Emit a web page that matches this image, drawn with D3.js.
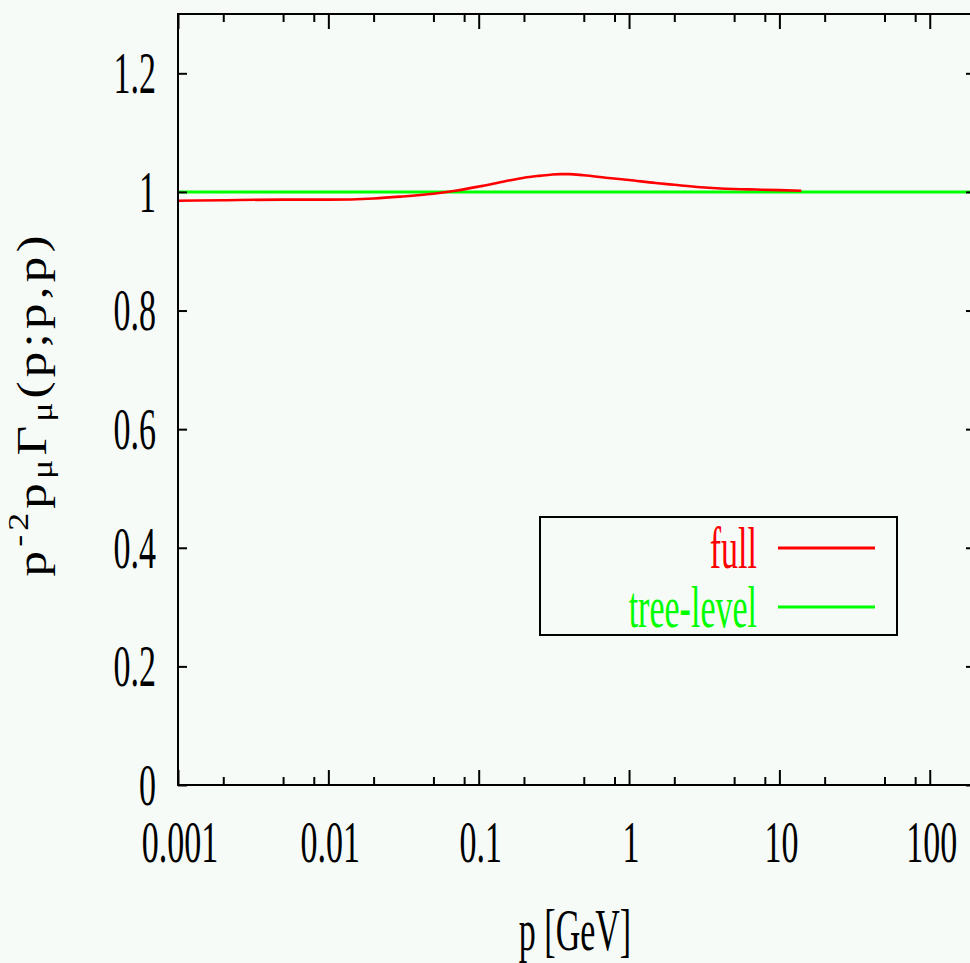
<!DOCTYPE html>
<html>
<head>
<meta charset="utf-8">
<script src="https://cdn.jsdelivr.net/npm/d3@7/dist/d3.min.js"></script>
<style>
  html, body { margin: 0; padding: 0; background: #f6fbf8; overflow: hidden; }
  text { font-family: "Liberation Serif", "DejaVu Serif", serif; fill: #000; }
  .tick line { stroke: #000; stroke-width: 2; }
</style>
</head>
<body>
<svg id="chart-svg" width="970" height="963"></svg>
<script>

// Data
const momentum = [0.001, 0.002, 0.005, 0.01, 0.02, 0.03, 0.05, 0.07, 0.1, 0.15, 0.2, 0.25, 0.3, 0.35, 0.4, 0.5, 0.7, 1, 1.5, 2, 3, 5, 7, 10, 14];
const vertexFull = [0.985, 0.986, 0.987, 0.987, 0.989, 0.992, 0.997, 1.002, 1.009, 1.018, 1.024, 1.027, 1.029, 1.030, 1.030, 1.028, 1.024, 1.020, 1.015, 1.012, 1.008, 1.005, 1.004, 1.003, 1.002];
const treeMomentum = [0.001, 200];
const vertexTree = [1, 1];

const xMajorTicks = [0.001, 0.01, 0.1, 1, 10, 100];
const xTickLabels = ["0.001", "0.01", "0.1", "1", "10", "100"];
const xMinorTicks = [0.002, 0.005, 0.008, 0.02, 0.05, 0.08, 0.2, 0.5, 0.8, 2, 5, 8, 20, 50, 80];
const yTicks = [0, 0.2, 0.4, 0.6, 0.8, 1, 1.2];
const yTickLabels = ["0", "0.2", "0.4", "0.6", "0.8", "1", "1.2"];

const legendNames = ["full", "tree-level"];
const legendColours = ["#ff0000", "#00ff00"];

// the picture is stretched vertically, so text is too
const FONT = 34;
const STRETCH = 1.72;

const plot = {left: 178, right: 975, top: 14, bottom: 785};

const svg = d3.select("#chart-svg");

const x = d3.scaleLog().domain([0.001, 200]).range([plot.left, plot.right]);
const y = d3.scaleLinear().domain([0, 1.3]).range([plot.bottom, plot.top]);

/**
 * Add stretched text
 */
function addText(g, tx, ty, str, anchor, colour) {
  return g.append("text")
    .attr("transform", "translate(" + tx + "," + ty + ") scale(1," + STRETCH + ")")
    .attr("text-anchor", anchor)
    .style("font-size", FONT + "px")
    .style("fill", colour || "#000")
    .text(str);
}

/**
 * Render ticks on all four sides (gnuplot mirrors them inward)
 */
function renderAxes() {
  const strip = g => { g.select(".domain").remove(); };

  svg.append("g").attr("transform", "translate(0," + plot.bottom + ")")
    .call(d3.axisBottom(x).tickValues(xMajorTicks).tickSize(-15).tickSizeOuter(0).tickFormat(""))
    .call(strip);
  svg.append("g").attr("transform", "translate(0," + plot.bottom + ")")
    .call(d3.axisBottom(x).tickValues(xMinorTicks).tickSize(-8).tickSizeOuter(0).tickFormat(""))
    .call(strip);
  svg.append("g").attr("transform", "translate(0," + plot.top + ")")
    .call(d3.axisTop(x).tickValues(xMajorTicks).tickSize(-15).tickSizeOuter(0).tickFormat(""))
    .call(strip);
  svg.append("g").attr("transform", "translate(0," + plot.top + ")")
    .call(d3.axisTop(x).tickValues(xMinorTicks).tickSize(-8).tickSizeOuter(0).tickFormat(""))
    .call(strip);
  svg.append("g").attr("transform", "translate(" + plot.left + ",0)")
    .call(d3.axisLeft(y).tickValues(yTicks).tickSize(-9).tickSizeOuter(0).tickFormat(""))
    .call(strip);
  svg.append("g").attr("transform", "translate(" + plot.right + ",0)")
    .call(d3.axisRight(y).tickValues(yTicks).tickSize(-9).tickSizeOuter(0).tickFormat(""))
    .call(strip);

  const labels = svg.append("g");
  xMajorTicks.forEach((v, i) => addText(labels, x(v) + 2, 862, xTickLabels[i], "middle"));
  yTicks.forEach((v, i) => addText(labels, 156, y(v) + 11.5 * STRETCH, yTickLabels[i], "end"));

  addText(labels, 575, 950, "p [GeV]", "middle");

  // y label: p^-2 p_mu Gamma_mu(p;p,p)
  const lab = 42;
  const small = lab * 0.7;
  const yl = labels.append("text")
    .attr("transform", "translate(46,404) rotate(-90) scale(1.22,1)")
    .attr("text-anchor", "middle")
    .style("font-size", lab + "px")
    .style("letter-spacing", "3.4px");
  yl.append("tspan").text("p");
  yl.append("tspan").attr("dy", -18).style("font-size", small + "px").text("-2");
  yl.append("tspan").attr("dy", 18).text("p");
  yl.append("tspan").attr("dy", 6).style("font-size", small + "px").text("\u03bc");
  yl.append("tspan").attr("dy", -6).text("\u0393");
  yl.append("tspan").attr("dy", 6).style("font-size", small + "px").text("\u03bc");
  yl.append("tspan").attr("dy", -6).text("(p;p,p)");
}

/**
 * Render the curves
 */
function renderLines() {
  const line = d3.line()
    .x(d => x(d[0]))
    .y(d => y(d[1]))
    .curve(d3.curveMonotoneX);

  svg.append("path")
    .datum(treeMomentum.map((p, i) => [p, vertexTree[i]]))
    .attr("d", line)
    .attr("fill", "none")
    .attr("stroke", legendColours[1])
    .attr("stroke-width", 3);

  svg.append("path")
    .datum(momentum.map((p, i) => [p, vertexFull[i]]))
    .attr("d", line)
    .attr("fill", "none")
    .attr("stroke", legendColours[0])
    .attr("stroke-width", 2.6);
}

/**
 * Frame around the plot
 */
function renderFrame() {
  svg.append("rect")
    .attr("x", plot.left)
    .attr("y", plot.top)
    .attr("width", plot.right - plot.left)
    .attr("height", plot.bottom - plot.top)
    .attr("fill", "none")
    .attr("stroke", "#000")
    .attr("stroke-width", 2);
}

/**
 * Legend box, bottom right
 */
function renderLegend() {
  const g = svg.append("g");
  g.append("rect")
    .attr("x", 540).attr("y", 517)
    .attr("width", 357).attr("height", 118)
    .attr("fill", "#f6fbf8")
    .attr("stroke", "#000")
    .attr("stroke-width", 2);

  const rowY = [548, 607];
  legendNames.forEach((name, i) => {
    addText(g, 757, rowY[i] + 20, name, "end", legendColours[i]);
    g.append("line")
      .attr("x1", 778).attr("x2", 875)
      .attr("y1", rowY[i]).attr("y2", rowY[i])
      .attr("stroke", legendColours[i])
      .attr("stroke-width", 3);
  });
}

renderLines();
renderFrame();
renderAxes();
renderLegend();
</script>
</body>
</html>
